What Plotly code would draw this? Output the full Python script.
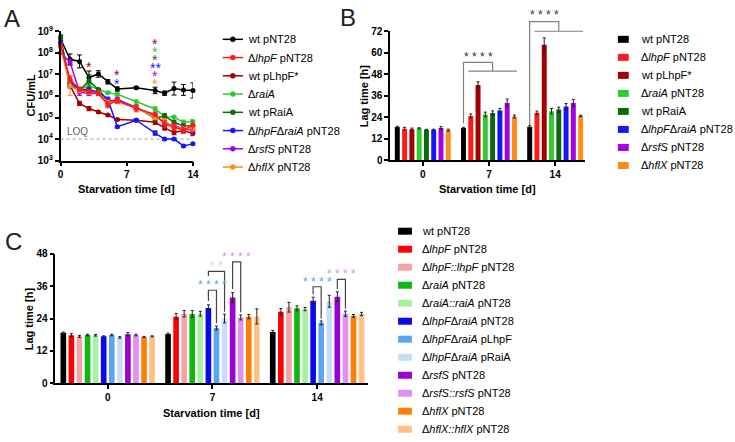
import math
import plotly.graph_objects as go

W, H = 735, 442
FONT = "Liberation Sans, Arial, sans-serif"


def fx(px):
    return px / W


def fy(py):
    return 1 - py / H


# ---------------- Panel A data (CFU/mL) ----------------
days = [0, 1, 2, 3, 4, 5, 6, 8, 10, 11, 12, 13, 14]
a_names = ["wt pNT28", "Δ<i>lhpF</i> pNT28", "wt pLhpF*", "Δ<i>raiA</i>", "wt pRaiA",
           "Δ<i>lhpF</i>Δ<i>raiA</i> pNT28", "Δ<i>rsfS</i> pNT28", "Δ<i>hflX</i> pNT28"]
a_colors = ["#000000", "#ff1a1a", "#a30000", "#2ecc2e", "#0b6b0b", "#1515ff", "#a300e6", "#ff8c1a"]

cfu_wt = [4.5e8, 5e7, 4e7, 7.2e6, 1.05e7, 4.5e6, 2.1e6, 2.4e6, 1.8e6, 1.35e6, 2.2e6, 1.9e6, 1.8e6]
cfu_lhpF = [2.2e8, 6e6, 2e6, 1.6e6, 1.3e6, 4e5, 6e5, 2.6e5, 1.4e5, 5e4, 3.5e4, 2.6e4, 4.4e4]
cfu_plhpF = [3e8, 3e6, 4.5e5, 2.6e5, 1.8e5, 1.3e5, 8e4, 7.5e4, 6e4, 3.3e4, 2e4, 2.5e4, 1.8e4]
cfu_raiA = [5e8, 3.5e6, 2e6, 3e6, 2e6, 1.4e6, 1.2e6, 5.5e5, 2.5e5, 1.1e5, 1.05e5, 6e4, 6.5e4]
cfu_praiA = [5.5e8, 3e6, 1.8e6, 5e6, 2e6, 6e5, 6e5, 3e5, 9e4, 1.2e5, 6e4, 4e4, 4.2e4]
cfu_double = [3e8, 4e6, 2e6, 2e6, 1.5e6, 7e5, 3.7e4, 7.5e4, 1.9e4, 1e4, 1e4, 4.8e3, 6e3]
cfu_rsfS = [1e8, 3.7e7, 1.5e6, 1.3e6, 1.3e6, 5e5, 7e5, 3e5, 1.2e5, 6e4, 4e4, 3e4, 2.5e4]
cfu_hflX = [1.8e8, 3e6, 1.8e6, 1.5e6, 1.4e6, 5e5, 5.5e5, 2.8e5, 1e5, 7e4, 3.5e4, 3e4, 3e4]
cfu_series = [cfu_wt, cfu_lhpF, cfu_plhpF, cfu_raiA, cfu_praiA, cfu_double, cfu_rsfS, cfu_hflX]

# error bar half-ranges (in decades)
err_wt = [0.08, 0.25, 0.3, 0.3, 0.15, 0.1, 0.1, 0.05, 0.15, 0.1, 0.3, 0.25, 0.35]
err_lhpF = [0.1, 0.15, 0.1, 0.1, 0.1, 0.15, 0.1, 0.15, 0.1, 0.15, 0.15, 0.15, 0.2]
err_plhpF = [0.1, 0.1, 0.1, 0.1, 0.05, 0.05, 0.05, 0.05, 0.1, 0.1, 0.1, 0.1, 0.1]
err_raiA = [0.1, 0.15, 0.1, 0.1, 0.05, 0.05, 0.05, 0.05, 0.1, 0.1, 0.05, 0.1, 0.1]
err_praiA = [0.1, 0.1, 0.1, 0.3, 0.05, 0.1, 0.1, 0.1, 0.1, 0.1, 0.1, 0.1, 0.1]
err_double = [0.1, 0.1, 0.1, 0.05, 0.05, 0.1, 0.05, 0.05, 0.1, 0.05, 0.05, 0.05, 0.05]
err_rsfS = [0.05, 0.15, 0.15, 0.1, 0.05, 0.2, 0.1, 0.1, 0.1, 0.1, 0.1, 0.15, 0.2]
err_hflX = [0.1, 0.45, 0.1, 0.1, 0.05, 0.1, 0.1, 0.1, 0.1, 0.1, 0.1, 0.1, 0.1]
err_series = [err_wt, err_lhpF, err_plhpF, err_raiA, err_praiA, err_double, err_rsfS, err_hflX]
LOQ = 1e4

# ---------------- Panel B data (lag time, h) ----------------
b_days = ["0", "7", "14"]
b_names = ["wt pNT28", "Δ<i>lhpF</i> pNT28", "wt pLhpF*", "Δ<i>raiA</i> pNT28", "wt pRaiA",
           "Δ<i>lhpF</i>Δ<i>raiA</i> pNT28", "Δ<i>rsfS</i> pNT28", "Δ<i>hflX</i> pNT28"]
b_colors = a_colors
b_vals = [[18.6, 18.0, 18.8], [17.6, 24.7, 26.5], [17.4, 42.0, 64.5], [17.9, 25.6, 27.4],
          [17.0, 26.4, 28.3], [17.1, 27.8, 30.1], [18.0, 32.0, 32.0], [16.9, 24.5, 24.8]]
b_errs = [[0.4, 0.4, 0.5], [0.8, 1.2, 1.0], [0.6, 1.8, 3.8], [0.3, 1.3, 1.5],
          [0.3, 1.2, 1.4], [0.3, 1.2, 1.6], [0.8, 2.2, 2.0], [0.5, 0.8, 0.4]]

# ---------------- Panel C data (lag time, h) ----------------
c_names = ["wt pNT28", "Δ<i>lhpF</i> pNT28", "Δ<i>lhpF::lhpF</i> pNT28", "Δ<i>raiA</i> pNT28",
           "Δ<i>raiA::raiA</i> pNT28", "Δ<i>lhpF</i>Δ<i>raiA</i> pNT28", "Δ<i>lhpF</i>Δ<i>raiA</i> pLhpF",
           "Δ<i>lhpF</i>Δ<i>raiA</i> pRaiA", "Δ<i>rsfS</i> pNT28", "Δ<i>rsfS::rsfS</i> pNT28",
           "Δ<i>hflX</i> pNT28", "Δ<i>hflX::hflX</i> pNT28"]
c_colors = ["#000000", "#ff0000", "#f7a3a3", "#0fb80f", "#a6f2a0", "#0a0af0", "#5aa5f2",
            "#c8ddf6", "#9a00d0", "#df90f0", "#ff8000", "#ffc184"]
c_vals = [[18.7, 18.3, 19.0], [17.8, 24.7, 26.5], [17.4, 25.8, 28.2], [17.9, 25.7, 27.8],
          [17.8, 25.8, 27.5], [17.4, 27.9, 30.6], [17.9, 20.5, 22.4], [17.0, 24.0, 30.4],
          [18.2, 31.8, 32.1], [17.9, 24.4, 25.8], [17.2, 24.7, 25.0], [17.4, 24.8, 25.7]]
c_errs = [[0.3, 0.3, 0.6], [0.6, 1.2, 1.2], [0.4, 1.2, 1.8], [0.3, 1.3, 0.9],
          [0.3, 0.9, 0.6], [0.2, 1.2, 1.3], [0.3, 0.7, 0.7], [0.3, 1.6, 2.2],
          [0.6, 1.8, 1.8], [0.3, 0.9, 1.0], [0.2, 0.8, 0.5], [0.2, 2.8, 0.6]]

fig = go.Figure()

# ---------------- Panel A traces ----------------
fig.add_trace(go.Scatter(x=[days[0], days[-1]], y=[LOQ, LOQ], mode="lines",
                         line=dict(color="#a0a0a0", width=1, dash="dot"),
                         xaxis="x", yaxis="y", showlegend=False, hoverinfo="skip"))
draw_order = [0, 2, 3, 4, 5, 6, 7, 1]
for k in draw_order:
    vals = cfu_series[k]
    errs = err_series[k]
    up = [v * (10 ** e - 1) for v, e in zip(vals, errs)]
    dn = [v * (1 - 10 ** (-e)) for v, e in zip(vals, errs)]
    fig.add_trace(go.Scatter(
        x=days, y=vals, mode="lines+markers", name=a_names[k],
        line=dict(color=a_colors[k], width=1.5),
        marker=dict(color=a_colors[k], size=5),
        error_y=dict(type="data", symmetric=False, array=up, arrayminus=dn,
                     color=a_colors[k], thickness=1, width=2.5),
        xaxis="x", yaxis="y", showlegend=False, cliponaxis=False))

# ---------------- Panel B bars ----------------
GB, nB = 0.88, len(b_names)
slotB = GB / nB
widB = slotB * 0.68
for i in range(nB):
    fig.add_trace(go.Bar(
        x=[0, 1, 2], y=b_vals[i], width=widB, offset=-GB / 2 + slotB * i + (slotB - widB) / 2,
        marker=dict(color=b_colors[i], line=dict(width=0)),
        error_y=dict(type="data", array=b_errs[i], color="#222222", thickness=1, width=1.5),
        xaxis="x2", yaxis="y2", showlegend=False))

# ---------------- Panel C bars ----------------
GC, nC = 0.925, len(c_names)
slotC = GC / nC
widC = slotC * 0.7
for i in range(nC):
    fig.add_trace(go.Bar(
        x=[0, 1, 2], y=c_vals[i], width=widC, offset=-GC / 2 + slotC * i + (slotC - widC) / 2,
        marker=dict(color=c_colors[i], line=dict(width=0)),
        error_y=dict(type="data", array=c_errs[i], color="#222222", thickness=1, width=1.5),
        xaxis="x3", yaxis="y3", showlegend=False))


def bar_center(g, i, G, n):
    return g - G / 2 + (G / n) * (i + 0.5)


shapes = []
annotations = []


def add_text(text, x, y, xref="paper", yref="paper", xanchor="center", yanchor="middle", **kw):
    annotations.append(dict(text=text, x=x, y=y, xref=xref, yref=yref, xanchor=xanchor,
                            yanchor=yanchor, showarrow=False, **kw))


# ---------------- Panel B brackets ----------------
YB = 72.0
for g, y_leg, y_top, y_low, y_txt in [(1, 20.6, 54.7, 49.8, 58.3), (2, 19.6, 77.4, 72.0, 81.6)]:
    x0 = bar_center(g, 0, GB, nB)
    xl = bar_center(g, 1, GB, nB) - widB / 2
    xr = bar_center(g, nB - 1, GB, nB) + widB / 2
    xm = (xl + xr) / 2
    shapes.append(dict(type="path", xref="x2", yref="y2 domain",
                       path=f"M{x0},{y_leg / YB} L{x0},{y_top / YB} L{xm},{y_top / YB} L{xm},{y_low / YB}",
                       line=dict(color="#808080", width=1.2)))
    shapes.append(dict(type="line", xref="x2", yref="y2 domain", x0=xl, x1=xr,
                       y0=y_low / YB, y1=y_low / YB, line=dict(color="#808080", width=1.2)))
    add_text("* * * *", (x0 + xm) / 2, y_txt / YB, xref="x2", yref="y2 domain", yshift=-1,
             font=dict(family=FONT, size=12, color="#333333"))

# ---------------- Panel C brackets ----------------
c_brackets = [
    # group, bar a, bar b, y_top, y_leg_a, y_leg_b, y_text, label, color
    (1, 5, 6, 34.5, 30.5, 22.3, 37.5, "* * * *", "#5aa5f2"),
    (1, 5, 7, 41.5, 39.8, 26.5, 44.5, "* *", "#c8ddf6"),
    (1, 8, 9, 45.0, 35.0, 26.3, 47.7, "* * * *", "#df90f0"),
    (2, 5, 6, 35.8, 33.0, 24.0, 38.6, "* * * *", "#5aa5f2"),
    (2, 8, 9, 38.5, 35.0, 27.6, 41.4, "* * * *", "#df90f0"),
]
for g, a, b, yt, ya, yb, ytxt, lab, col in c_brackets:
    xa = bar_center(g, a, GC, nC)
    xb = bar_center(g, b, GC, nC)
    shapes.append(dict(type="path", xref="x3", yref="y3",
                       path=f"M{xa},{ya} L{xa},{yt} L{xb},{yt} L{xb},{yb}",
                       line=dict(color="#444444", width=1.2)))
    add_text(lab, (xa + xb) / 2, ytxt, xref="x3", yref="y3", yshift=-2.5,
             font=dict(family=FONT, size=12, color=col))

# ---------------- Panel A significance stars ----------------
a_stars = [(3, 60, "*", 2), (6, 68, "*", 2), (6, 77, "*", 5),
           (10, 36, "*", 2), (10, 44, "*", 3), (10, 53, "*", 4), (10, 61, "**", 5),
           (10, 69, "*", 6), (10, 77, "*", 7)]
for d, ypx, lab, k in a_stars:
    add_text(lab, d, fy(ypx), xref="x", yshift=-2, font=dict(family=FONT, size=14, color=a_colors[k]))
add_text("LOQ", 0.45, math.log10(LOQ) + 0.36, xref="x", yref="y", xanchor="left",
         font=dict(family=FONT, size=10, color="#666666"))

# ---------------- Panel letters & axis titles ----------------
for lab, x, y in [("A", 9, 12), ("B", 349, 11), ("C", 11, 242)]:
    add_text(lab, fx(x), fy(y), font=dict(family=FONT, size=24, color="#222222"))
title_font = dict(family=FONT, size=11, color="#000000", weight="bold")
for lab, x, y, ang in [("CFU/mL", 28, 91.5, -90), ("Starvation time [d]", 125, 187, 0),
                       ("Lag time [h]", 365, 91.5, -90), ("Starvation time [d]", 490.5, 187, 0),
                       ("Lag time [h]", 26, 321, -90), ("Starvation time [d]", 211.5, 418, 0)]:
    add_text(lab, fx(x), fy(y), textangle=ang, font=title_font)

# ---------------- Legends (drawn manually) ----------------
leg_font = dict(family=FONT, size=11, color="#000000")
for i, nm in enumerate(a_names):
    yy = 33.3 + i * 18.8
    shapes.append(dict(type="line", xref="paper", yref="paper", x0=fx(222.5), x1=fx(243),
                       y0=fy(yy), y1=fy(yy), line=dict(color=a_colors[i], width=1.5)))
    r = 2.6
    shapes.append(dict(type="circle", xref="paper", yref="paper", x0=fx(232.7 - r), x1=fx(232.7 + r),
                       y0=fy(yy + r), y1=fy(yy - r), fillcolor=a_colors[i],
                       line=dict(color=a_colors[i], width=0.5)))
    add_text(nm, fx(246), fy(yy), xanchor="left", font=leg_font)
for i, nm in enumerate(b_names):
    yy = 33.3 + i * 18.57
    shapes.append(dict(type="rect", xref="paper", yref="paper", x0=fx(622.5), x1=fx(633.5),
                       y0=fy(yy + 3.6), y1=fy(yy - 3.6), fillcolor=b_colors[i], line=dict(width=0)))
    add_text(nm, fx(644), fy(yy), xanchor="left", font=leg_font)
for i, nm in enumerate(c_names):
    yy = 231 + i * 18.55
    shapes.append(dict(type="rect", xref="paper", yref="paper", x0=fx(400), x1=fx(414),
                       y0=fy(yy + 3.6), y1=fy(yy - 3.6), fillcolor=c_colors[i], line=dict(width=0)))
    add_text(nm, fx(422), fy(yy), xanchor="left", font=leg_font)

# ---------------- Axes ----------------
tick_font = dict(family=FONT, size=10, color="#000000", weight="bold")
axis_common = dict(showline=True, linecolor="#000000", linewidth=1.5, ticks="outside", ticklen=4,
                   tickwidth=1.5, tickcolor="#000000", showgrid=False, zeroline=False,
                   tickfont=tick_font, fixedrange=True)

fig.update_layout(
    width=W, height=H, margin=dict(l=0, r=0, t=0, b=0),
    paper_bgcolor="white", plot_bgcolor="white", barmode="overlay", showlegend=False,
    font=dict(family=FONT),
    xaxis=dict(domain=[fx(58.3), fx(192.3)], range=[0, 14], tickvals=[0, 7, 14], anchor="y", **axis_common),
    yaxis=dict(domain=[fy(158.3), fy(25)], type="log", range=[3, 9], anchor="x",
               tickvals=[10 ** k for k in range(3, 10)],
               ticktext=[f"10<sup>{k}</sup>" for k in range(3, 10)], **axis_common),
    xaxis2=dict(domain=[fx(392), fx(589)], range=[-0.4925, 2.448], tickvals=[0, 1, 2], ticktext=b_days,
                anchor="y2", **axis_common),
    yaxis2=dict(domain=[fy(158), fy(25)], range=[0, 72], tickvals=list(range(0, 73, 12)), anchor="x2",
                **axis_common),
    xaxis3=dict(domain=[fx(53), fx(370)], range=[-0.5, 2.49], tickvals=[0, 1, 2], ticktext=b_days,
                anchor="y3", **axis_common),
    yaxis3=dict(domain=[fy(387.7), fy(254.3)], range=[0, 48], tickvals=list(range(0, 49, 12)), anchor="x3",
                **axis_common),
    shapes=shapes, annotations=annotations,
)

fig.write_html("out.html")
